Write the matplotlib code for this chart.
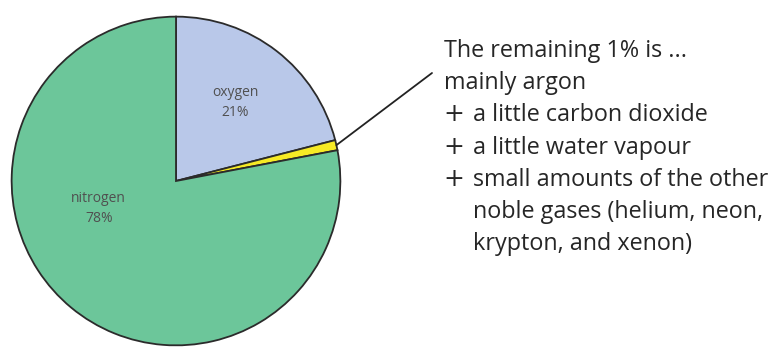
import numpy as np
import matplotlib.pyplot as plt

gases = ['oxygen', 'other', 'nitrogen']
shares = [21, 1, 78]
colours = ['#b9c8e9', '#f6ea25', '#6cc69a']
label_pos = {'oxygen': (0.36, 0.48), 'nitrogen': (-0.47, -0.17)}

# (text, starts with a plus sign, indented)
notes = [
    ('The remaining 1% is ...', False, False),
    ('mainly argon', False, False),
    ('a little carbon dioxide', True, True),
    ('a little water vapour', True, True),
    ('small amounts of the other', True, True),
    ('noble gases (helium, neon,', False, True),
    ('krypton, and xenon)', False, True),
]

W, H = 779, 347
fig = plt.figure(figsize=(W / 100, H / 100), dpi=100)

cx, cy, r = 176, 181, 166
ax = fig.add_axes([(cx - r) / W, (H - cy - r) / H, 2 * r / W, 2 * r / H])
wedges, _ = ax.pie(shares, colors=colours, startangle=90, counterclock=False,
                   wedgeprops=dict(edgecolor='#2b2b2b', linewidth=1.3))
ax.set_xlim(-1.01, 1.01)
ax.set_ylim(-1.01, 1.01)
ax.set_aspect('equal')
ax.axis('off')

for g, s in zip(gases, shares):
    if g in label_pos:
        x, y = label_pos[g]
        ax.text(x, y, f'{g}\n{s}%', ha='center', va='center', fontsize=10,
                color='#505050', family='Open Sans', linespacing=1.45)

# leader from the small wedge to the note
w = wedges[1]
mid = np.deg2rad((w.theta1 + w.theta2) / 2)
ax.annotate('', xy=(np.cos(mid), np.sin(mid)), xycoords='data',
            xytext=(432, H - 73), textcoords='figure pixels',
            arrowprops=dict(arrowstyle='-', color='#222222', lw=1.3,
                            shrinkA=0, shrinkB=0),
            annotation_clip=False)

y0, step = 51, 32.2
for i, (line, plus, indent) in enumerate(notes):
    y = (H - y0 - i * step) / H
    if plus:
        fig.text(453.5 / W, y + 1 / H, '+', fontsize=18, family='DejaVu Sans',
                 color='#262626', va='center', ha='center')
    fig.text((444 + indent * 29) / W, y, line,
             fontsize=16.8, family='Open Sans', color='#262626', va='center', ha='left')

fig.savefig('out.png', dpi=100, facecolor='white')
